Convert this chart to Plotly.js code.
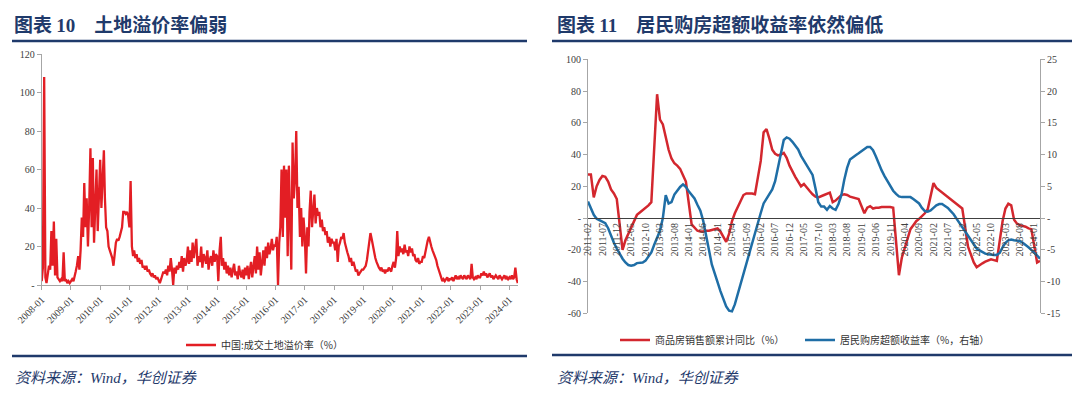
<!DOCTYPE html>
<html><head><meta charset="utf-8">
<script src="https://cdn.plot.ly/plotly-3.0.1.min.js"></script>
<style>html,body{margin:0;padding:0;background:#fff}#chart{width:1080px;height:394px}</style>
</head><body><div id="chart"></div>
<script>
// ---- Left chart: land premium rate (semi-monthly readings) ----
const land2008 = [2,9,108,4,1,6,10,8,28,10,33,5,24,4,3,2,3,2,17,2,3,1,2,1];
const land2009 = [2,3,2,4,7,10,15,8,18,35,25,53,30,45,20,40,71,30,66,22,45,60,28,50];
const land2010 = [65,40,58,70,45,30,28,20,18,16,14,10,16,22,24,23,25,27,30,38,38,37,38,36];
const land2011 = [30,54,20,15,18,14,16,12,14,11,13,9,10,8,10,7,8,6,5,6,4,5,3,4];
const land2012 = [2,1,3,5,7,6,8,5,10,7,14,8,0,9,6,10,8,12,9,15,7,14,10,12];
const land2013 = [20,11,18,12,22,14,18,24,10,15,12,20,9,16,14,11,18,8,13,15,10,18,12,16];
const land2014 = [15,2,18,25,10,14,8,12,6,10,5,9,4,8,11,5,7,3,10,6,4,8,3,9];
const land2015 = [5,10,3,8,12,4,9,15,6,20,8,17,5,12,18,10,20,14,22,16,19,24,18,21];
const land2016 = [20,25,0,22,30,60,25,62,35,60,15,62,40,8,74,45,55,80,40,51,25,40,20,35];
const land2017 = [25,6,30,20,38,49,30,42,47,32,40,36,38,30,34,28,30,26,28,22,25,20,24,22];
const land2018 = [22,18,24,12,20,22,25,24,27,22,20,17,15,12,14,10,12,9,7,8,5,6,7,8];
const land2019 = [8,9,10,13,17,22,27,24,20,17,14,12,10,9,8,9,7,8,6,8,7,9,8,7];
const land2020 = [10,12,9,14,28,15,20,17,19,16,21,17,18,15,20,17,19,15,16,13,12,14,11,12];
const land2021 = [12,15,14,18,20,23,25,22,20,18,16,15,13,10,8,6,4,2,3,2,3,4,2,3];
const land2022 = [3,4,2,4,5,3,4,3,5,4,3,5,4,3,5,4,3,11,4,3,4,3,5,4];
const land2023 = [4,6,5,7,5,6,4,5,6,4,5,3,4,5,4,3,5,4,3,4,5,3,4,3];
const land2024 = [4,3,5,3,4,9,3,1];
const landYears = [2008,2009,2010,2011,2012,2013,2014,2015,2016,2017,2018,2019,2020,2021,2022,2023,2024];
const landByYear = [land2008,land2009,land2010,land2011,land2012,land2013,land2014,land2015,land2016,land2017,land2018,land2019,land2020,land2021,land2022,land2023,land2024];
const landTickText = ['-','20','40','60','80','100','120'];
const landTickVals = [0,20,40,60,80,100,120];

// ---- Right chart: monthly from 2011-02 ----
const salesYoY = [27.5,27.5,13,20,24,26.5,26,23,18,15.5,12,null,
 -20,-14,-10,-5,-1,2,3.5,5,6,8,10,null,
 78,62,59,51,43,37.5,34.5,33,31,27,23,null,
 -4,-6,-8,-8.5,-8.5,-8,-8,-7.5,-7,-6.5,-8.5,null,
 -15,-10,-2,3,7,11,14.5,15.5,15.5,15.5,15,null,
 36,54,56,50,43,40.5,39.5,40,41,38,33,null,
 26,23,20,21.5,19,17,15,13.5,13,14,14.5,null,
 16,10,11,13,14.5,15,14.5,13.5,13,12.5,12,null,
 3,6.5,7.5,6,6.5,6.5,7,7,7,7,6.5,null,
 -36,-25,-19,-12,-7,-4.5,-2,-0.5,1,3,5.5,null,
 22,19,17.5,16,14.5,13,11.5,10,8.5,7.5,6,null,
 -18,-23,-28,-31,-29.5,-28.5,-27.5,-26.5,-26,-26.5,-27,null,
 -2,6,9,8,-1,-3.5,-4.5,-5,-5.5,-6.5,-7,null,
 -28,-27];
const excessReturn = [2.6,1.6,0.5,-0.1,-0.3,-0.5,-0.8,-1.6,-2.8,-3.9,-4.8,-5.7,
 -6.4,-7.0,-7.4,-7.5,-7.4,-7.1,-7.0,-7.0,-6.7,-6.1,-5.4,-4.2,
 -3.2,-2.0,0.0,3.6,2.3,2.5,3.7,4.4,4.9,5.3,4.9,4.2,
 3.6,3.1,2.1,1.2,-0.4,-2.5,-5.0,-7.3,-8.9,-10.1,-11.5,-12.8,
 -13.9,-14.6,-14.7,-13.6,-12.0,-10.0,-8.4,-6.9,-5.5,-3.7,-2.2,-0.6,
 0.8,2.3,3.1,3.9,4.5,5.8,8.0,10.4,12.3,12.7,12.5,12.0,
 11.4,10.8,9.8,9.0,8.3,7.5,6.8,4.7,2.5,1.8,1.8,1.3,
 1.9,1.5,1.3,2.2,3.6,6.0,7.9,9.2,9.6,9.9,10.2,10.5,
 10.9,11.2,11.2,10.7,9.7,8.5,7.5,6.6,5.8,4.9,4.3,3.8,
 3.4,3.3,3.3,3.4,3.3,3.0,2.7,2.3,1.6,1.1,1.0,1.2,
 1.6,2.0,2.2,2.2,1.9,1.6,1.1,0.6,-0.1,-0.8,-1.4,-2.1,
 -2.9,-3.5,-4.2,-4.8,-5.1,-5.4,-5.6,-5.7,-5.8,-5.8,-5.8,-5.5,
 -4.6,-3.9,-3.5,-3.4,-3.5,-3.5,-3.6,-3.9,-4.2,-4.6,-5.0,-5.4,
 -5.9,-6.4];
const leftTickVals = [-60,-40,-20,0,20,40,60,80,100];
const leftTickText = ['-60','-40','-20','-','20','40','60','80','100'];
const rightTickVals = [-15,-10,-5,0,5,10,15,20,25];
const rightTickText = ['-15','-10','-5','-','5','10','15','20','25'];

// build date categories
const landDates = [], landValues = [];
landByYear.forEach((arr, yi) => arr.forEach((v, k) => {
  const m = Math.floor(k / 2) + 1;
  landDates.push(landYears[yi] + '-' + String(m).padStart(2, '0') + '-' + (k % 2 ? '16' : '01'));
  landValues.push(v);
}));
const months = [];
for (let i = 0; i < salesYoY.length; i++) {
  const t = 2011 * 12 + 1 + i; // 2011-02 start
  months.push(Math.floor(t / 12) + '-' + String(t % 12 + 1).padStart(2, '0'));
}
const monthTicks = months.filter((m, i) => i % 5 === 0);

const W = 1080, H = 394;
const px = x => x / W, py = y => (H - y) / H;
const navy = '#1F3A6B';
const serif = 'Liberation Serif, Times New Roman, serif';
const cjk = 'Noto Sans CJK SC, sans-serif';
const tickFont = {family: serif, size: 10, color: '#404040'};

const traces = [
  {x: landDates, y: landValues, type: 'scatter', mode: 'lines', name: '中国:成交土地溢价率（%）',
   xaxis: 'x', yaxis: 'y', line: {color: '#E31E24', width: 2.3}, legend: 'legend'},
  {x: months, y: salesYoY, type: 'scatter', mode: 'lines', name: '商品房销售额累计同比（%）', connectgaps: true,
   xaxis: 'x2', yaxis: 'y2', line: {color: '#D3272E', width: 2.5}, legend: 'legend2'},
  {x: months, y: excessReturn, type: 'scatter', mode: 'lines', name: '居民购房超额收益率（%，右轴）',
   xaxis: 'x2', yaxis: 'y3', line: {color: '#1F6EA6', width: 2.5}, legend: 'legend3'}
];

const yd2 = [py(313.3), py(59.3)];
const titleNum = n => '<span style="font-family:Liberation Serif">' + n + '</span>';
const layout = {
  width: W, height: H, margin: {l: 0, r: 0, t: 0, b: 0},
  paper_bgcolor: '#fff', plot_bgcolor: '#fff',
  xaxis: {domain: [px(41.7), px(518)], anchor: 'y', type: 'date', range: ['2008-01-01', '2024-04-18'],
    tick0: '2008-01-01', dtick: 'M12', tickformat: '%Y-%m', tickangle: -45, tickfont: tickFont,
    showline: true, linecolor: '#A6A6A6', ticks: 'outside', ticklen: 4, tickcolor: '#A6A6A6',
    showgrid: false, zeroline: false},
  yaxis: {domain: [py(285), py(54)], anchor: 'x', range: [0, 120], tickmode: 'array', tickvals: landTickVals,
    ticktext: landTickText, tickfont: tickFont, showline: true, linecolor: '#A6A6A6', ticks: 'outside',
    ticklen: 4, tickcolor: '#A6A6A6', showgrid: false, zeroline: false},
  xaxis2: {domain: [px(588), px(1040)], anchor: 'free', position: yd2[0] + 0.375 * (yd2[1] - yd2[0]),
    type: 'category', range: [0, months.length - 1], tickmode: 'array', tickvals: monthTicks, ticktext: monthTicks,
    tickangle: -90, tickfont: tickFont, showline: true, linecolor: '#404040', linewidth: 1,
    ticks: '', showgrid: false, zeroline: false},
  yaxis2: {domain: yd2, anchor: 'x2', range: [-60, 100], tickmode: 'array', tickvals: leftTickVals,
    ticktext: leftTickText, tickfont: tickFont, showline: true, linecolor: '#A6A6A6', ticks: 'outside',
    ticklen: 4, tickcolor: '#A6A6A6', showgrid: false, zeroline: false},
  yaxis3: {overlaying: 'y2', side: 'right', anchor: 'x2', range: [-15, 25], tickmode: 'array',
    tickvals: rightTickVals, ticktext: rightTickText, tickfont: tickFont, showline: true, linecolor: '#A6A6A6',
    ticks: 'outside', ticklen: 4, tickcolor: '#A6A6A6', showgrid: false, zeroline: false},
  showlegend: true,
  legend: {x: px(181), y: py(345), xanchor: 'left', yanchor: 'middle', orientation: 'h',
    font: {family: cjk, size: 10, color: '#333'}, bgcolor: 'rgba(0,0,0,0)'},
  legend2: {x: px(615), y: py(340), xanchor: 'left', yanchor: 'middle', orientation: 'h',
    font: {family: cjk, size: 10, color: '#333'}, bgcolor: 'rgba(0,0,0,0)'},
  legend3: {x: px(800), y: py(340), xanchor: 'left', yanchor: 'middle', orientation: 'h',
    font: {family: cjk, size: 10, color: '#333'}, bgcolor: 'rgba(0,0,0,0)'},
  shapes: [
    {type: 'line', xref: 'paper', yref: 'paper', x0: px(12), x1: px(527), y0: py(41), y1: py(41), line: {color: navy, width: 2.5}},
    {type: 'line', xref: 'paper', yref: 'paper', x0: px(12), x1: px(527), y0: py(356), y1: py(356), line: {color: navy, width: 2.5}},
    {type: 'line', xref: 'paper', yref: 'paper', x0: px(552), x1: px(1072), y0: py(41), y1: py(41), line: {color: navy, width: 2.5}},
    {type: 'line', xref: 'paper', yref: 'paper', x0: px(552), x1: px(1072), y0: py(355), y1: py(355), line: {color: navy, width: 2.5}}
  ],
  annotations: [
    {xref: 'paper', yref: 'paper', x: px(12), y: py(24), xanchor: 'left', yanchor: 'middle', showarrow: false,
     text: '<b>图表 ' + titleNum('10') + '　土地溢价率偏弱</b>', font: {family: cjk, size: 19, color: navy}},
    {xref: 'paper', yref: 'paper', x: px(555), y: py(24), xanchor: 'left', yanchor: 'middle', showarrow: false,
     text: '<b>图表 ' + titleNum('11') + '　居民购房超额收益率依然偏低</b>', font: {family: cjk, size: 19, color: navy}},
    {xref: 'paper', yref: 'paper', x: px(13), y: py(378), xanchor: 'left', yanchor: 'middle', showarrow: false,
     text: '<i>资料来源：Wind，华创证券</i>', font: {family: serif + ', Noto Sans CJK SC', size: 15, color: navy}},
    {xref: 'paper', yref: 'paper', x: px(555), y: py(378), xanchor: 'left', yanchor: 'middle', showarrow: false,
     text: '<i>资料来源：Wind，华创证券</i>', font: {family: serif + ', Noto Sans CJK SC', size: 15, color: navy}}
  ]
};
Plotly.newPlot('chart', traces, layout, {staticPlot: true, displayModeBar: false});
</script></body></html>
